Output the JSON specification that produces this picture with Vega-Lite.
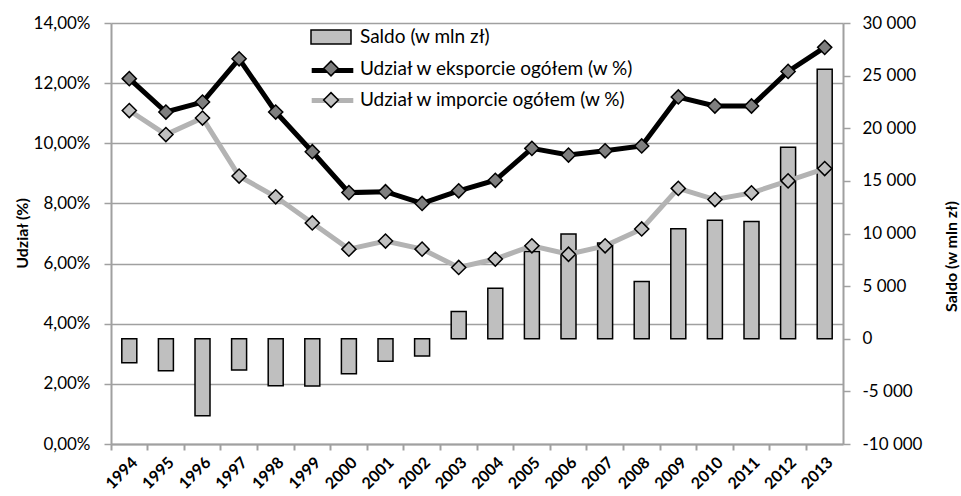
{
  "$schema": "https://vega.github.io/schema/vega-lite/v6.json",
  "width": 732,
  "height": 421,
  "autosize": {"type": "none"},
  "padding": {"left": 111, "top": 23, "right": 118, "bottom": 52},
  "background": "white",
  "config": {
    "view": {"stroke": null},
    "font": "Lato",
    "axis": {"labelFont": "Lato", "titleFont": "Lato", "labelColor": "black", "titleColor": "black"},
    "legend": {"labelFont": "Lato", "labelColor": "black"}
  },
  "datasets": {
    "saldo": [
      {"year": "1994", "saldo": -2280},
      {"year": "1995", "saldo": -3040},
      {"year": "1996", "saldo": -7320},
      {"year": "1997", "saldo": -2980},
      {"year": "1998", "saldo": -4470},
      {"year": "1999", "saldo": -4500},
      {"year": "2000", "saldo": -3330},
      {"year": "2001", "saldo": -2130},
      {"year": "2002", "saldo": -1650},
      {"year": "2003", "saldo": 2600},
      {"year": "2004", "saldo": 4800},
      {"year": "2005", "saldo": 8300},
      {"year": "2006", "saldo": 9950},
      {"year": "2007", "saldo": 9100},
      {"year": "2008", "saldo": 5450},
      {"year": "2009", "saldo": 10450},
      {"year": "2010", "saldo": 11250},
      {"year": "2011", "saldo": 11150},
      {"year": "2012", "saldo": 18200},
      {"year": "2013", "saldo": 25600}
    ],
    "udzial": [
      {"year": "1994", "series": "Udział w eksporcie ogółem (w %)", "value": 12.15},
      {"year": "1995", "series": "Udział w eksporcie ogółem (w %)", "value": 11.04},
      {"year": "1996", "series": "Udział w eksporcie ogółem (w %)", "value": 11.37},
      {"year": "1997", "series": "Udział w eksporcie ogółem (w %)", "value": 12.81},
      {"year": "1998", "series": "Udział w eksporcie ogółem (w %)", "value": 11.04},
      {"year": "1999", "series": "Udział w eksporcie ogółem (w %)", "value": 9.72},
      {"year": "2000", "series": "Udział w eksporcie ogółem (w %)", "value": 8.36},
      {"year": "2001", "series": "Udział w eksporcie ogółem (w %)", "value": 8.39},
      {"year": "2002", "series": "Udział w eksporcie ogółem (w %)", "value": 8.0},
      {"year": "2003", "series": "Udział w eksporcie ogółem (w %)", "value": 8.42},
      {"year": "2004", "series": "Udział w eksporcie ogółem (w %)", "value": 8.77},
      {"year": "2005", "series": "Udział w eksporcie ogółem (w %)", "value": 9.83},
      {"year": "2006", "series": "Udział w eksporcie ogółem (w %)", "value": 9.61},
      {"year": "2007", "series": "Udział w eksporcie ogółem (w %)", "value": 9.75},
      {"year": "2008", "series": "Udział w eksporcie ogółem (w %)", "value": 9.91},
      {"year": "2009", "series": "Udział w eksporcie ogółem (w %)", "value": 11.54},
      {"year": "2010", "series": "Udział w eksporcie ogółem (w %)", "value": 11.24},
      {"year": "2011", "series": "Udział w eksporcie ogółem (w %)", "value": 11.24},
      {"year": "2012", "series": "Udział w eksporcie ogółem (w %)", "value": 12.39},
      {"year": "2013", "series": "Udział w eksporcie ogółem (w %)", "value": 13.19},
      {"year": "1994", "series": "Udział w imporcie ogółem (w %)", "value": 11.09},
      {"year": "1995", "series": "Udział w imporcie ogółem (w %)", "value": 10.29},
      {"year": "1996", "series": "Udział w imporcie ogółem (w %)", "value": 10.84},
      {"year": "1997", "series": "Udział w imporcie ogółem (w %)", "value": 8.91},
      {"year": "1998", "series": "Udział w imporcie ogółem (w %)", "value": 8.22},
      {"year": "1999", "series": "Udział w imporcie ogółem (w %)", "value": 7.35},
      {"year": "2000", "series": "Udział w imporcie ogółem (w %)", "value": 6.48},
      {"year": "2001", "series": "Udział w imporcie ogółem (w %)", "value": 6.75},
      {"year": "2002", "series": "Udział w imporcie ogółem (w %)", "value": 6.48},
      {"year": "2003", "series": "Udział w imporcie ogółem (w %)", "value": 5.87},
      {"year": "2004", "series": "Udział w imporcie ogółem (w %)", "value": 6.15},
      {"year": "2005", "series": "Udział w imporcie ogółem (w %)", "value": 6.59},
      {"year": "2006", "series": "Udział w imporcie ogółem (w %)", "value": 6.31},
      {"year": "2007", "series": "Udział w imporcie ogółem (w %)", "value": 6.59},
      {"year": "2008", "series": "Udział w imporcie ogółem (w %)", "value": 7.15},
      {"year": "2009", "series": "Udział w imporcie ogółem (w %)", "value": 8.5},
      {"year": "2010", "series": "Udział w imporcie ogółem (w %)", "value": 8.13},
      {"year": "2011", "series": "Udział w imporcie ogółem (w %)", "value": 8.35},
      {"year": "2012", "series": "Udział w imporcie ogółem (w %)", "value": 8.75},
      {"year": "2013", "series": "Udział w imporcie ogółem (w %)", "value": 9.16}
    ]
  },
  "layer": [
    {
      "data": {"name": "saldo"},
      "mark": {"type": "bar", "width": 15, "stroke": "black", "strokeWidth": 1.5},
      "encoding": {
        "x": {
          "field": "year",
          "type": "ordinal",
          "scale": {"paddingInner": 0, "paddingOuter": 0},
          "axis": {
            "orient": "bottom",
            "title": null,
            "ticks": false,
            "grid": false,
            "labelAngle": -45,
            "labelFontSize": 16,
            "labelFontWeight": "bold",
            "labelPadding": 10,
            "domainColor": "#a0a0a0",
            "domainWidth": 2
          }
        },
        "y": {
          "field": "saldo",
          "type": "quantitative",
          "scale": {"domain": [-10000, 30000], "nice": false},
          "axis": {
            "orient": "right",
            "values": [-10000, -5000, 0, 5000, 10000, 15000, 20000, 25000, 30000],
            "labelExpr": "replace(replace(format(datum.value, ','), ',', ' '), '−', '-')",
            "grid": false,
            "domainColor": "#a0a0a0",
            "domainWidth": 2,
            "tickColor": "#a0a0a0",
            "tickWidth": 1.5,
            "tickSize": 7,
            "labelPadding": 12,
            "labelFontSize": 17,
            "title": "Saldo (w mln zł)",
            "titleFontSize": 16,
            "titleFontWeight": "bold",
            "titleAngle": 270,
            "titleX": 108,
            "titleY": 233,
            "titleBaseline": "middle",
            "titleAlign": "center"
          }
        },
        "fill": {
          "datum": "Saldo (w mln zł)",
          "type": "nominal",
          "scale": {
            "domain": ["Saldo (w mln zł)", "Udział w eksporcie ogółem (w %)", "Udział w imporcie ogółem (w %)"],
            "range": ["#bfbfbf", "#7f7f7f", "#c0c0c0"]
          },
          "legend": {
            "orient": "none",
            "legendX": 203,
            "legendY": -3,
            "title": null,
            "padding": 0,
            "rowPadding": 3.5,
            "symbolSize": 1024,
            "symbolStrokeColor": "black",
            "symbolStrokeWidth": 1.5,
            "symbolOpacity": 1,
            "labelFontSize": 19,
            "labelOffset": 12,
            "labelLimit": 0,
            "zindex": 1,
            "encode": {
              "symbols": {
                "update": {
                  "shape": {"signal": "datum.value === 'Saldo (w mln zł)' ? 'M-1.25,-0.44H1.25V0.44H-1.25Z' : 'M0,-0.46L0.46,0L0,0.46L-0.46,0Z'"},
                  "stroke": {"value": "black"},
                  "strokeWidth": {"value": 1.5}
                }
              }
            }
          }
        }
      }
    },
    {
      "data": {"name": "udzial"},
      "encoding": {
        "x": {
          "field": "year",
          "type": "ordinal",
          "axis": {
            "orient": "bottom",
            "title": null,
            "labels": false,
            "ticks": true,
            "domain": false,
            "grid": false,
            "bandPosition": 0,
            "tickSize": 6,
            "tickColor": "#a0a0a0",
            "tickWidth": 2
          }
        },
        "y": {
          "field": "value",
          "type": "quantitative",
          "scale": {"domain": [0, 14], "nice": false},
          "axis": {
            "orient": "left",
            "values": [0, 2, 4, 6, 8, 10, 12, 14],
            "labelExpr": "replace(format(datum.value, '.2f'), '.', ',') + '%'",
            "grid": true,
            "gridColor": "#a0a0a0",
            "gridWidth": 1.5,
            "domainColor": "#a0a0a0",
            "domainWidth": 2,
            "tickColor": "#a0a0a0",
            "tickWidth": 1.5,
            "tickSize": 7,
            "labelPadding": 14,
            "labelFontSize": 17,
            "title": "Udział (%)",
            "titleFontSize": 16,
            "titleFontWeight": "bold",
            "titleAngle": 270,
            "titleX": -89,
            "titleY": 210,
            "titleBaseline": "middle",
            "titleAlign": "center"
          }
        }
      },
      "layer": [
        {
          "mark": {"type": "line", "strokeWidth": 5},
          "encoding": {
            "color": {
              "field": "series",
              "type": "nominal",
              "scale": {
                "domain": ["Udział w eksporcie ogółem (w %)", "Udział w imporcie ogółem (w %)"],
                "range": ["black", "#b3b3b3"]
              },
              "legend": {
                "orient": "none",
                "legendX": 203,
                "legendY": 29,
                "title": null,
                "padding": 0,
                "rowPadding": 1,
                "symbolType": "M-1.3,0H1.3",
                "symbolSize": 1024,
                "symbolStrokeWidth": 5,
                "labelOpacity": 0,
                "labelFontSize": 1,
                "labelLimit": 1,
                "zindex": 0
              }
            }
          }
        },
        {
          "mark": {"type": "point", "shape": "diamond", "filled": true, "size": 200, "stroke": "black", "strokeWidth": 1.5, "opacity": 1},
          "encoding": {
            "fill": {
              "field": "series",
              "type": "nominal",
              "legend": {
                "orient": "none",
                "legendX": 203,
                "legendY": -3,
                "title": null,
                "padding": 0,
                "rowPadding": 3.5,
                "symbolSize": 1024,
                "symbolStrokeColor": "black",
                "symbolStrokeWidth": 1.5,
                "symbolOpacity": 1,
                "labelFontSize": 19,
                "labelOffset": 12,
                "labelLimit": 0,
                "zindex": 1,
                "encode": {
                  "symbols": {
                    "update": {
                      "shape": {"signal": "datum.value === 'Saldo (w mln zł)' ? 'M-1.25,-0.44H1.25V0.44H-1.25Z' : 'M0,-0.46L0.46,0L0,0.46L-0.46,0Z'"},
                      "stroke": {"value": "black"},
                      "strokeWidth": {"value": 1.5}
                    }
                  }
                }
              }
            }
          }
        }
      ]
    }
  ],
  "resolve": {
    "scale": {"y": "independent"},
    "axis": {"x": "independent", "y": "independent"}
  }
}
